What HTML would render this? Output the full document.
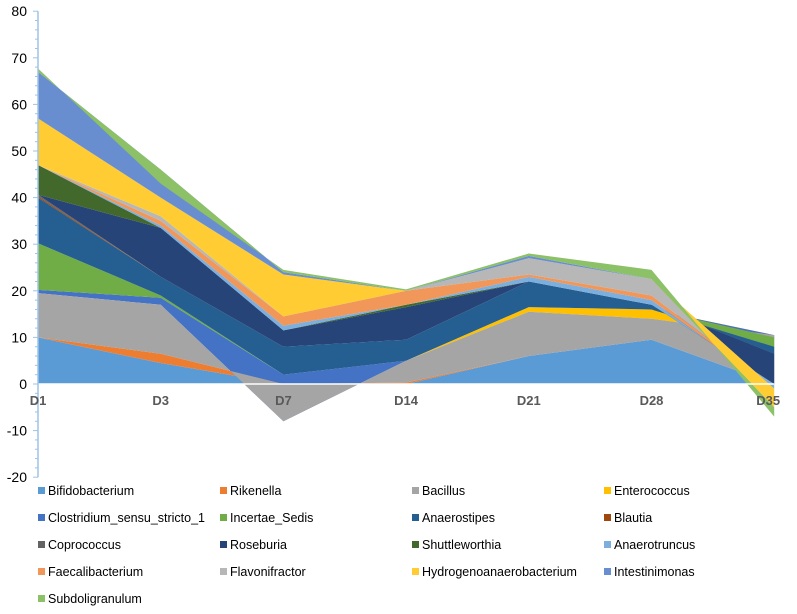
<!DOCTYPE html>
<html><head><meta charset="utf-8"><style>
body{margin:0;background:#fff;font-family:"Liberation Sans",sans-serif}
svg{display:block}
</style></head><body>
<svg id="chart" width="797" height="614"></svg>
<script>
const categories=["D1","D3","D7","D14","D21","D28","D35"];
const seriesNames=["Bifidobacterium","Rikenella","Bacillus","Enterococcus","Clostridium_sensu_stricto_1","Incertae_Sedis","Anaerostipes","Blautia","Coprococcus","Roseburia","Shuttleworthia","Anaerotruncus","Faecalibacterium","Flavonifractor","Hydrogenoanaerobacterium","Intestinimonas","Subdoligranulum"];
const colors=["#5b9bd5","#ed7d31","#a5a5a5","#ffc000","#4472c4","#70ad47","#255e91","#9e480e","#636363","#264478","#43682b","#7cafdd","#f1975a","#b7b7b7","#ffcd33","#698ed0","#8cc168"];
const bifidobacterium=[10,4.5,0,0,6,9.5,0];
const rikenella=[0,2,0,0.3,0,0,0];
const bacillus=[9.5,10.5,-8,4.7,9.5,4.5,10.5];
const enterococcus=[0,0,0,0,1,2,0];
const clostridium=[0.7,1.5,10,0,0,0,-0.5];
const incertaeSedis=[10,0.5,0,0,0,0,-2];
const anaerostipes=[9.8,4,6,4.5,5.5,1,-1.5];
const blautia=[0.3,0,0,0,0,0,0];
const coprococcus=[0.3,0,0,0,0,0,0];
const roseburia=[0,10.5,3.5,7,0,0,-6.5];
const shuttleworthia=[6.4,0,0,0.5,0,0,0];
const anaerotruncus=[0,0.5,1,0,1,1,-1];
const faecalibacterium=[0,1,2,3,0.5,1,0];
const flavonifractor=[0,1,0,0,3.5,3.5,0];
const hydrogenoanaerobacterium=[10,4,9,0,0,0,-4];
const intestinimonas=[10,6,0.5,0,0.5,0,0];
const subdoligranulum=[0.7,-3,0.5,0.3,0.5,2,-2];
const seriesValues=[bifidobacterium,rikenella,bacillus,enterococcus,clostridium,incertaeSedis,anaerostipes,blautia,coprococcus,roseburia,shuttleworthia,anaerotruncus,faecalibacterium,flavonifractor,hydrogenoanaerobacterium,intestinimonas,subdoligranulum];
const yTicks=[80,70,60,50,40,30,20,10,0,-10,-20];

const NS="http://www.w3.org/2000/svg";
const svg=document.getElementById("chart");
const x0=38,xStep=122.7,yZero=384,pxPerUnit=4.66;
const xs=i=>x0+i*xStep;
const ys=v=>yZero-v*pxPerUnit;
function mk(t,a,parent){const e=document.createElementNS(NS,t);for(const k in a)e.setAttribute(k,a[k]);(parent||svg).appendChild(e);return e;}

const gA=mk("g",{});
const polys=[];
let cum=categories.map(()=>0);
seriesValues.forEach((vals,s)=>{
  const prev=cum.slice();
  cum=cum.map((c,i)=>c+vals[i]);
  let pts=categories.map((c,i)=>xs(i)+","+ys(cum[i]));
  for(let i=categories.length-1;i>=0;i--)pts.push(xs(i)+","+ys(prev[i]));
  const p=document.createElementNS(NS,"polygon");
  p.setAttribute("points",pts.join(" "));
  p.setAttribute("fill",colors[s]);
  
  
  polys.push(p);
});
// paint order: draw Bacillus after Clostridium so its negative dip stays visible
const order=[0,1,3,4,2,5,6,7,8,9,10,11,12,13,14,15,16];
order.forEach(i=>gA.appendChild(polys[i]));

const zl=mk("line",{x1:x0,x2:xs(6),y1:yZero,y2:yZero,stroke:"#fff","stroke-width":1.5});


const ax=mk("line",{x1:x0,x2:x0,y1:ys(80),y2:ys(-20),stroke:"#9dc3e6","stroke-width":1.5});


for(let v=-20;v<=80;v+=2){const t=mk("line",{x1:x0-(v%10===0?5:3),x2:x0,y1:ys(v),y2:ys(v),stroke:"#9dc3e6","stroke-width":1});

}
yTicks.forEach(v=>{const t=mk("text",{x:27,y:ys(v)+5,"text-anchor":"end","font-size":14,fill:"#000"});t.textContent=v;

});
categories.forEach((c,i)=>{const t=mk("text",{x:xs(i)-(i==6?6:0),y:405,"text-anchor":"middle","font-size":13,"font-weight":"bold",fill:"#595959"});t.textContent=c;

});
const colX=[38,220,412,604];
seriesNames.forEach((n,s)=>{const cx=colX[s%4],cy=492+Math.floor(s/4)*27;
const r=mk("rect",{x:cx,y:cy-5,width:7,height:7,fill:colors[s]});


const t=mk("text",{x:cx+10,y:cy+3,"font-size":12.5,fill:"#000"});t.textContent=n;

});
</script>
</body></html>
